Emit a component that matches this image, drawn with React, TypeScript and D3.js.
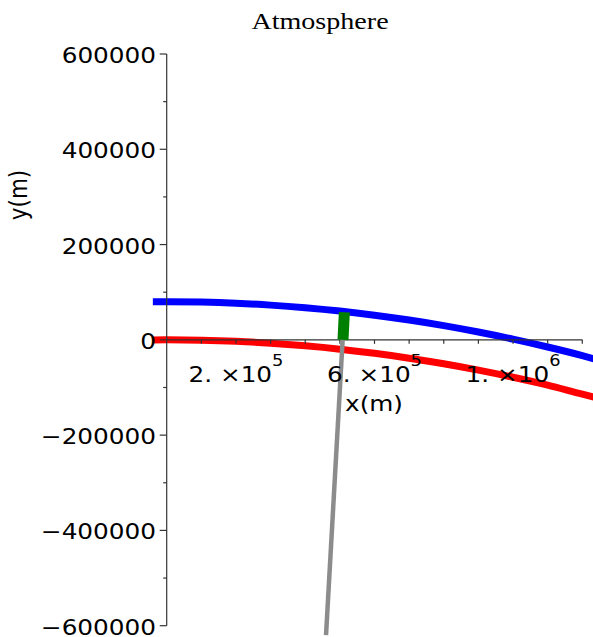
import React from 'react'
import * as d3 from 'd3'

// values (metres)
const xs = [-40000, 0, 100000, 200000, 300000, 400000, 500000, 600000, 700000, 800000, 900000, 1000000, 1100000, 1200000, 1250000]
const atmosphere = [79900, 80000, 79200, 76900, 72900, 67400, 60400, 51700, 41500, 29800, 16400, 1500, -15000, -33000, -43000]
const ground = [-100, 0, -800, -3100, -7100, -12600, -19600, -28300, -38500, -50200, -63600, -78500, -95000, -114000, -123000]

// the green segment and the grey ray
const markX = [509000, 513000]
const markY = [0, 58000]
const rayX = [508000, 460000]
const rayY = [0, -620000]

const yTicks = [600000, 400000, 200000, 0, -200000, -400000, -600000]
const yMinor = [500000, 300000, 100000, -100000, -300000, -500000]
const xTicks = [100000, 200000, 300000, 400000, 500000, 600000, 700000, 800000, 900000, 1000000, 1100000, 1200000]
const xLabels = [
  { v: 200000, base: '2. ×10', exp: '5' },
  { v: 600000, base: '6. ×10', exp: '5' },
  { v: 1000000, base: '1. ×10', exp: '6' },
]

const W = 593
const H = 637
const SX = 1.15 // picture is stretched sideways
const sans = 'DejaVu Sans'

const App = () => {
  const x = d3.scaleLinear().domain([0, 1200000]).range([166.7, 582.3])
  const y = d3.scaleLinear().domain([-600000, 600000]).range([625.7, 54])

  const line = d3.line<number>()
    .x((_, i) => x(xs[i]))
    .curve(d3.curveMonotoneX)

  const atmPath = line.y(d => y(d))(atmosphere) || ''
  const groundPath = line.y(d => y(d))(ground) || ''

  const fmt = (v: number) => (v < 0 ? '\u2212' + Math.abs(v) : String(v))

  return (
    <svg width={W} height={H} style={{ position: 'absolute', left: 0, top: 0, background: '#fff' }}>
      <g transform={`translate(320,29.3) scale(1.17,1)`}>
        <text textAnchor="middle" fontFamily="Liberation Serif" fontSize={24} fill="#000">Atmosphere</text>
      </g>

      <path d={atmPath} fill="none" stroke="#0000ff" strokeWidth={7} />
      <path d={groundPath} fill="none" stroke="#ff0000" strokeWidth={7} />

      {/* axes */}
      <line x1={x(0)} x2={x(0)} y1={y(600000)} y2={y(-600000)} stroke="#333" strokeWidth={1.2} />
      <line x1={x(0)} x2={x(1200000)} y1={y(0)} y2={y(0)} stroke="#333" strokeWidth={1.2} />
      {yTicks.map(t => (
        <line key={'yt' + t} x1={x(0) - 7} x2={x(0)} y1={y(t)} y2={y(t)} stroke="#333" strokeWidth={1.2} />
      ))}
      {yMinor.map(t => (
        <line key={'ym' + t} x1={x(0) - 3.5} x2={x(0)} y1={y(t)} y2={y(t)} stroke="#333" strokeWidth={1.2} />
      ))}
      {xTicks.map(t => (
        <line key={'xt' + t} x1={x(t)} x2={x(t)} y1={y(0)} y2={y(0) + 4} stroke="#333" strokeWidth={1.2} />
      ))}

      <line x1={x(markX[0])} y1={y(markY[0])} x2={x(markX[1])} y2={y(markY[1])} stroke="#008000" strokeWidth={11} />
      <line x1={x(rayX[0])} y1={y(rayY[0])} x2={x(rayX[1])} y2={y(rayY[1])} stroke="#8c8c8c" strokeWidth={4.5} />

      {yTicks.map(t => (
        <g key={'yl' + t} transform={`translate(156,${y(t) + 9}) scale(${SX},1)`}>
          <text textAnchor="end" fontFamily={sans} fontSize={21.5} fill="#000">{fmt(t)}</text>
        </g>
      ))}

      {xLabels.map(l => (
        <g key={'xl' + l.v} transform={`translate(${x(l.v)},381.7) scale(${SX},1)`}>
          <text textAnchor="middle" fontFamily={sans} fontSize={21.5} fill="#000">
            {l.base}
            <tspan fontSize={15.5} dy={-15.5}>{l.exp}</tspan>
          </text>
        </g>
      ))}

      <g transform={`translate(374,411) scale(${SX},1)`}>
        <text textAnchor="middle" fontFamily={sans} fontSize={21.5} fill="#000">x(m)</text>
      </g>
      <g transform={`translate(26.8,195) scale(${SX},1) rotate(-90)`}>
        <text textAnchor="middle" fontFamily={sans} fontSize={21.5} fill="#000">y(m)</text>
      </g>
    </svg>
  )
}

export default App
